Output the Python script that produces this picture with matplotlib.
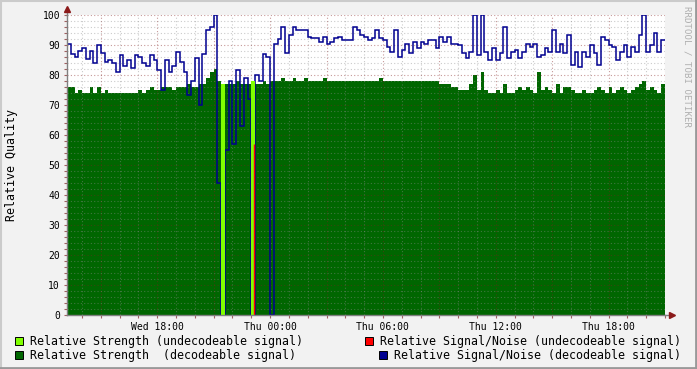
import numpy as np
import matplotlib
matplotlib.use('Agg')
import matplotlib.pyplot as plt
from matplotlib.patches import Rectangle
from matplotlib.lines import Line2D
from matplotlib.ticker import MultipleLocator, FuncFormatter

######################################################################
# data: one value every 0.2 h, starting Wed 13:12 (hours since Wed 00:00)

t_start = 13.2
t_step = 0.2

snr_decodeable = [
    90.5, 87, 86, 88, 89, 85.5, 88, 84, 90, 87.5,
    84.5, 85, 84, 81, 86.7, 83, 85, 82.2, 86.7, 86,
    84, 83, 86.7, 85, 81.7, 75, 85, 81, 83, 87.8,
    84.5, 81, 73.3, 78, 85.6, 70, 87, 95, 96, 100,
    44, 0, 55, 78, 57, 81.7, 63, 79, 72, 0,
    80, 78, 87, 86, 0, 90.5, 92, 96, 87.2, 93.3,
    96, 95, 95, 95, 92.8, 92.2, 92.2, 91, 92.8, 90.5,
    91, 92.2, 92.8, 91.7, 91.7, 91.7, 96, 95, 93.3, 92.8,
    91.7, 92.2, 95, 92.2, 91.7, 89.4, 87.8, 95, 86.1, 88.3,
    90.5, 87.2, 91, 88.9, 91, 90.5, 91.7, 91.7, 88.9, 92.8,
    91, 92.8, 90.5, 90.5, 90, 87.2, 85.6, 87.8, 100, 86.7,
    100, 87.8, 85, 88.9, 85, 87.2, 96, 85.6, 87.8, 88.3,
    85.6, 87.8, 90.5, 89.4, 90.5, 86.1, 86.7, 88.9, 87.8, 95,
    87.8, 90.5, 87.2, 93.3, 83.3, 87.8, 82.8, 87.8, 86.1, 90,
    87.2, 83.3, 92.8, 91.7, 90, 89.4, 85, 87.8, 90, 86.1,
    89.4, 87.8, 93.3, 100, 87.8, 90, 93.9, 87.8, 91.7,
]

strength_decodeable = [
    76, 76, 74, 75, 74, 74, 76, 74, 76, 74,
    75, 74, 74, 74, 74, 74, 74, 74, 74, 75,
    74, 75, 76, 75, 75, 76, 76, 76, 75, 76,
    76, 76, 77, 76, 76, 77, 77, 79, 81, 82,
    78, 0, 77, 77, 77, 78, 77, 77, 77, 0,
    77, 77, 78, 77, 78, 78, 78, 79, 78, 78,
    79, 78, 78, 79, 78, 78, 78, 78, 79, 78,
    78, 78, 78, 78, 78, 78, 78, 78, 78, 78,
    78, 78, 78, 79, 78, 78, 78, 78, 78, 78,
    78, 78, 78, 78, 78, 78, 78, 78, 78, 77,
    77, 77, 76, 76, 75, 75, 75, 77, 80, 75,
    81, 75, 74, 74, 75, 74, 77, 74, 74, 75,
    76, 75, 76, 75, 74, 81, 75, 76, 75, 74,
    77, 74, 76, 76, 75, 74, 74, 75, 74, 74,
    75, 76, 75, 74, 76, 74, 75, 76, 75, 74,
    75, 76, 77, 78, 75, 76, 75, 74, 77,
]

und_times = [21.4, 23.0]
und_strength = [77, 78]
und_snr_times = [23.15]
und_snr = [57]

tick_hours = [18, 24, 30, 36, 42]
tick_labels = ['Wed 18:00', 'Thu 00:00', 'Thu 06:00', 'Thu 12:00', 'Thu 18:00']

legend_left = [('#80ff00', 'Relative Strength (undecodeable signal)'),
               ('#006600', 'Relative Strength  (decodeable signal)')]
legend_right = [('#ff0000', 'Relative Signal/Noise (undecodeable signal)'),
                ('#000090', 'Relative Signal/Noise (decodeable signal)')]

######################################################################

W, H = 697, 369
mono = 'DejaVu Sans Mono'

fig = plt.figure(figsize = (W / 100, H / 100), dpi = 100, facecolor = '#f2f2f2')
ax = fig.add_axes([67 / W, 1 - 315 / H, 598 / W, 300 / H])
ax.set_facecolor('white')

edges = t_start + t_step * np.arange(len(snr_decodeable) + 1)

ax.stairs(strength_decodeable, edges, fill = True, color = '#006600', lw = 0, zorder = 1)
ax.stairs(snr_decodeable, edges, baseline = None, color = '#000090', lw = 1.1, zorder = 3)
ax.bar(und_times, und_strength, width = t_step, align = 'edge', color = '#80ff00', lw = 0, zorder = 3.5)
ax.vlines(und_snr_times, 0, und_snr, color = '#ff0000', lw = 1.0, zorder = 3.6)

ax.set_xlim(edges[0], edges[-1])
ax.set_ylim(0, 100)

ax.xaxis.set_major_locator(MultipleLocator(3))
ax.xaxis.set_minor_locator(MultipleLocator(1))
lab = dict(zip(tick_hours, tick_labels))
ax.xaxis.set_major_formatter(FuncFormatter(lambda v, p: lab.get(int(round(v)), '')))
ax.yaxis.set_major_locator(MultipleLocator(10))
ax.yaxis.set_minor_locator(MultipleLocator(2))
ax.yaxis.set_major_formatter(FuncFormatter(lambda v, p: '%d' % v))

ax.set_axisbelow('line')
ax.grid(which = 'major', color = '#821e1e', alpha = 0.45, ls = (0, (1, 2)), lw = 0.8)
ax.grid(which = 'minor', color = '#8c8c8c', alpha = 0.45, ls = (0, (1, 2)), lw = 0.8)

ax.tick_params(which = 'both', length = 2, width = 0.8, color = '#a06060', labelsize = 7, pad = 3)
for t in ax.get_xticklabels() + ax.get_yticklabels():
    t.set_family(mono)

for s in ['top', 'right']:
    ax.spines[s].set_visible(False)
for s in ['left', 'bottom']:
    ax.spines[s].set_color('#808080')
    ax.spines[s].set_linewidth(1.0)
    ax.spines[s].set_zorder(4)

# axis extensions with arrow heads
ax.plot([0, 0], [1, 1.012], transform = ax.transAxes, color = '#808080', lw = 1, clip_on = False)
ax.plot([1, 1.008], [0, 0], transform = ax.transAxes, color = '#808080', lw = 1, clip_on = False)
ax.plot([0], [1.02], marker = '^', ms = 4, color = '#8b1a1a', transform = ax.transAxes, clip_on = False)
ax.plot([1.012], [0], marker = '>', ms = 4, color = '#8b1a1a', transform = ax.transAxes, clip_on = False)

fig.text(12 / W, 1 - 165 / H, 'Relative Quality', rotation = 90, ha = 'center', va = 'center',
         family = mono, size = 8.4)
fig.text(687 / W, 1 - 66 / H, 'RRDTOOL / TOBI OETIKER', rotation = 270, ha = 'center', va = 'center',
         family = mono, size = 6.6, color = '#b0b0b0')

# legend
rows = [341, 355]
fig.canvas.draw()
r = fig.canvas.get_renderer()

def box(x0, y, color):
    fig.add_artist(Rectangle((x0 / W, 1 - (y + 4) / H), 8 / W, 8 / H, transform = fig.transFigure,
                             facecolor = color, edgecolor = 'black', lw = 0.7))

for (c, txt), y in zip(legend_left, rows):
    fig.text(30 / W, 1 - y / H, txt, ha = 'left', va = 'center', family = mono, size = 8.4)
    box(15, y, c)

for (c, txt), y in zip(legend_right, rows):
    tt = fig.text(681 / W, 1 - y / H, txt, ha = 'right', va = 'center', family = mono, size = 8.4)
    bb = tt.get_window_extent(r)
    box(bb.x0 - 15, y, c)

# 3d frame
fig.add_artist(Line2D([0, 1], [1 - 1 / H, 1 - 1 / H], transform = fig.transFigure, color = '#cbcbcb', lw = 1.5))
fig.add_artist(Line2D([1 / W, 1 / W], [0, 1], transform = fig.transFigure, color = '#cbcbcb', lw = 1.5))
fig.add_artist(Line2D([0, 1], [1.5 / H, 1.5 / H], transform = fig.transFigure, color = '#999999', lw = 2))
fig.add_artist(Line2D([1 - 1.5 / W, 1 - 1.5 / W], [0, 1], transform = fig.transFigure, color = '#999999', lw = 2))

fig.savefig('out.png', dpi = 100, facecolor = fig.get_facecolor())
